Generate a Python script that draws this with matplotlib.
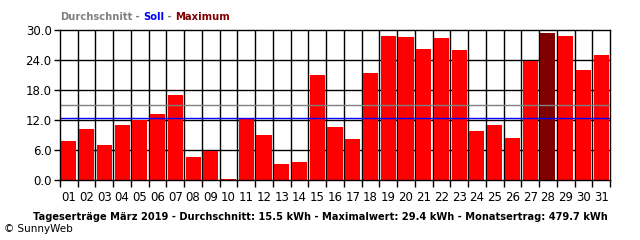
import numpy as np
import matplotlib
matplotlib.use("Agg")
import matplotlib.pyplot as plt

# daily yields, March 2019 (kWh)
days = np.arange(1, 32)
day_labels = ["%02d" % d for d in days]
yields = [7.9, 10.2, 7.1, 11.0, 12.0, 13.2, 17.0, 4.6, 5.9, 0.3,
          12.3, 9.0, 3.3, 3.6, 21.0, 10.7, 8.2, 21.5, 28.9, 28.6,
          26.2, 28.4, 26.0, 9.8, 11.0, 8.4, 23.9, 29.4, 28.9, 22.0, 25.0]
avg_line = 15.1
soll_line = 12.5
yticks = [0.0, 6.0, 12.0, 18.0, 24.0, 30.0]
title = "Tageserträge März 2019 - Durchschnitt: 15.5 kWh - Maximalwert: 29.4 kWh - Monatsertrag: 479.7 kWh"

fig = plt.figure(figsize=(6.4, 2.4), dpi=100)
ax = fig.add_axes([60/640, 60/240, 550/640, 150/240])

imax = int(np.argmax(yields))
colors = ["#ff0000"] * len(yields)
colors[imax] = "#800000"
ax.bar(days, yields, width=0.85, color=colors, zorder=3)

# grid behind the bars
for y in yticks[1:-1]:
    ax.axhline(y, color="black", lw=1.0, zorder=1)
for x in np.arange(1.5, 31.5, 1.0):
    ax.axvline(x, color="black", lw=1.0, zorder=1)

ax.axhline(avg_line, color="#808080", lw=1.0, zorder=4)
ax.axhline(soll_line, color="#0000ff", lw=1.0, zorder=4)

ax.set_xlim(0.5, 31.5)
ax.set_ylim(0, 30)
ax.set_yticks(yticks)
ax.set_yticklabels(["%.1f" % v for v in yticks], fontsize=8.5)
ax.set_xticks(np.arange(0.5, 32, 1.0), minor=False)
ax.set_xticklabels([])
ax.set_xticks(days, minor=True)
ax.set_xticklabels(day_labels, minor=True, fontsize=8.5)
ax.tick_params(axis="x", which="major", length=5, width=1.0, direction="out")
ax.tick_params(axis="x", which="minor", length=0, pad=8)
ax.tick_params(axis="y", length=4, width=1.0, pad=2)
for s in ax.spines.values():
    s.set_linewidth(1.0)
    s.set_zorder(5)

# coloured legend text above the plot
fig.canvas.draw()
r = fig.canvas.get_renderer()
parts = [("Durchschnitt", "#808080"), (" - ", "#808080"), ("Soll", "#0000ff"),
         (" - ", "#808080"), ("Maximum", "#800000")]
x = 60
for txt, c in parts:
    t = fig.text(x/640, 1 - 17/240, txt, color=c, fontsize=7.2, fontweight="bold",
                 va="center", ha="left")
    bb = t.get_window_extent(renderer=r)
    x += bb.width

fig.text(320/640, 1 - 217/240, title, fontsize=7.1, fontweight="bold",
         ha="center", va="center")
fig.text(4/640, 1 - 229/240, "© SunnyWeb", fontsize=7.5, ha="left", va="center")

fig.savefig("out.png", dpi=100)
